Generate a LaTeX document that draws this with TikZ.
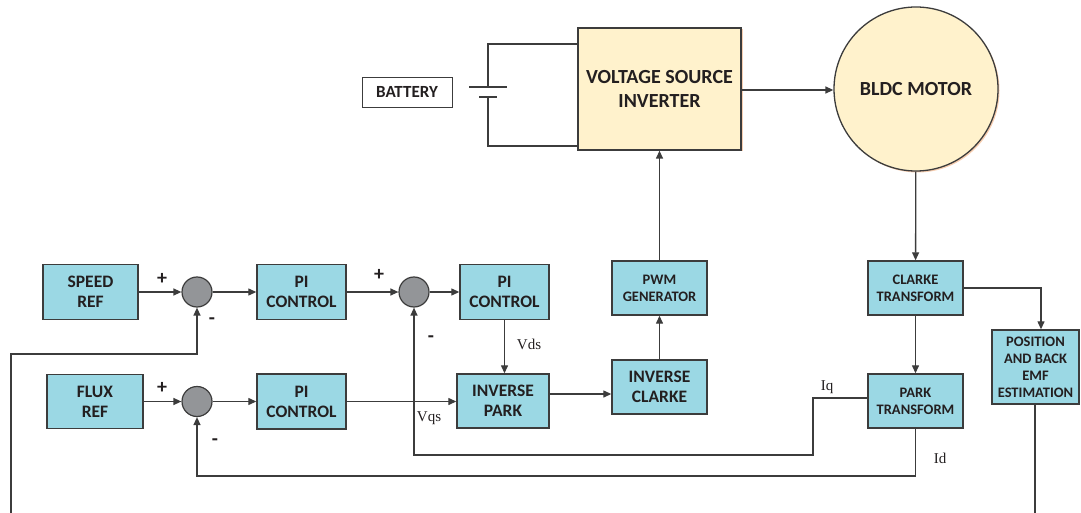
\documentclass[tikz,border=0pt]{standalone}
\usepackage{fontspec}
\setmainfont{Carlito}
\newfontfamily\labfont{Liberation Serif}
\usetikzlibrary{arrows.meta,shadows}
\definecolor{boxc}{HTML}{9BD8E4}
\definecolor{edgec}{HTML}{3C3C3C}
\definecolor{sumc}{HTML}{939598}
\definecolor{yelc}{HTML}{FFF2CC}
\definecolor{shadc}{HTML}{F6C9A8}
\definecolor{txtc}{HTML}{231F20}
\begin{document}
\begin{tikzpicture}[x=1pt,y=-1pt,
  wire/.style={draw=edgec,line width=1.3pt},
  arr/.style={wire,-{Triangle[length=8pt,width=7pt]}},
  blk/.style={draw=edgec,line width=1.4pt,fill=boxc,inner sep=0pt,align=center,text=txtc,
    font=\bfseries\fontsize{17.5}{20}\selectfont},
  sblk/.style={blk,font=\bfseries\fontsize{14.5}{17}\selectfont},
  sumnode/.style={circle,draw=edgec,line width=1.2pt,fill=sumc,minimum size=30pt,inner sep=0pt},
  yel/.style={draw=edgec,line width=1.3pt,fill=yelc,inner sep=0pt,align=center,text=txtc,
    font=\bfseries\fontsize{20}{24}\selectfont,
    drop shadow={shadow xshift=1.5pt,shadow yshift=-1.5pt,fill=shadc,opacity=0.9}},
  sign/.style={text=txtc,font=\bfseries\fontsize{20}{20}\selectfont,inner sep=0pt},
  lab/.style={text=txtc,font=\labfont\fontsize{15}{15}\selectfont,inner sep=0pt}
]
\useasboundingbox (0,0) rectangle (1081,513);

% top
\node[draw=edgec,line width=0.8pt,fill=white,minimum width=90pt,minimum height=30pt,inner sep=0pt,
  text=txtc,font=\bfseries\fontsize{17}{17}\selectfont] (bat) at (407,92) {BATTERY};
\node[yel,minimum width=163pt,minimum height=122pt] (vsi) at (659.5,89) {VOLTAGE SOURCE\\INVERTER};
\node[yel,circle,minimum size=164pt] (motor) at (916,89) {BLDC MOTOR};

% battery symbol
\coordinate (bt) at (488,44);
\coordinate (bb) at (488,146);
\coordinate (pl1) at (469,87);
\coordinate (pl2) at (507,87);
\coordinate (ps1) at (479,97);
\coordinate (ps2) at (497,97);
\draw[wire] (pl1) -- (pl2);
\draw[wire] (ps1) -- (ps2);
\draw[wire] (vsi.west |- bt) -- (bt) -- (bt |- pl1);
\draw[wire] (vsi.west |- bb) -- (bb) -- (bb |- ps1);

% left blocks
\node[blk,minimum width=95pt,minimum height=55pt] (speed) at (90.5,292) {SPEED\\REF};
\node[sumnode] (s1) at (197,292) {};
\node[blk,minimum width=89pt,minimum height=55pt] (pi1) at (301.5,292) {PI\\CONTROL};
\node[sumnode] (s2) at (414,292) {};
\node[blk,minimum width=89pt,minimum height=55pt] (pi2) at (504.5,292) {PI\\CONTROL};

\node[blk,minimum width=96pt,minimum height=54pt] (flux) at (95,401.5) {FLUX\\REF};
\node[sumnode] (s3) at (197,401.5) {};
\node[blk,minimum width=89pt,minimum height=55pt] (pi3) at (301.5,401.5) {PI\\CONTROL};
\node[blk,minimum width=92pt,minimum height=54pt] (ipark) at (503,401) {INVERSE\\PARK};

\node[blk,minimum width=95pt,minimum height=54pt] (iclarke) at (659.5,387) {INVERSE\\CLARKE};
\node[sblk,minimum width=95pt,minimum height=54pt] (pwm) at (659.5,288) {PWM\\GENERATOR};

\node[sblk,minimum width=95pt,minimum height=54pt] (clarke) at (915.5,288) {CLARKE\\TRANSFORM};
\node[sblk,minimum width=95pt,minimum height=54pt] (park) at (915.5,401) {PARK\\TRANSFORM};
\node[sblk,minimum width=87pt,minimum height=74pt] (pos) at (1035.5,367) {POSITION\\AND BACK\\EMF\\ESTIMATION};

% forward path
\draw[arr] (speed) -- (s1);
\draw[arr] (s1) -- (pi1);
\draw[arr] (pi1) -- (s2);
\draw[arr] (s2) -- (pi2);
\draw[arr] (pi2.south) -- (pi2.south |- ipark.north);
\draw[arr] (flux) -- (s3);
\draw[arr] (s3) -- (pi3);
\draw[arr] (pi3.east) -- (ipark.west |- pi3.east);
\coordinate (ipy) at (0,394);
\draw[arr] (ipark.east |- ipy) -- (iclarke.west |- ipy);
\draw[arr] (iclarke) -- (pwm);
\draw[arr] (pwm) -- (vsi);
\draw[arr] (vsi.east |- 0,90) -- (motor.west |- 0,90);
\draw[arr] (motor) -- (clarke);
\draw[arr] (clarke) -- (park);
\coordinate (posin) at (1041,330);
\draw[arr] (clarke.east) -| (posin |- pos.north);

% feedback
\coordinate (posend) at (1035,513);
\draw[wire] (pos.south -| posend) -- (posend);
\coordinate (lend) at (11,513);
\coordinate (lc) at (11,354);
\draw[arr] (lend) -- (lc) -- (lc -| s1) -- (s1.south);
\coordinate (iqa) at (813,398);
\coordinate (iqb) at (813,455);
\draw[arr] (park.west |- iqa) -- (iqa) -- (iqb) -- (iqb -| s2) -- (s2.south);
\coordinate (idb) at (915.5,476);
\draw[arr] (park.south) -- (idb) -- (idb -| s3) -- (s3.south);

% signs and labels
\node[sign] (p1) at (162,279) {+};
\node[sign] (m1) at (212,321) {-};
\node[sign] (p2) at (379,275) {+};
\node[sign] (m2) at (431,339) {-};
\node[sign] (p3) at (162,388) {+};
\node[sign] (m3) at (215,442) {-};
\node[lab] (vds) at (529,344) {Vds};
\node[lab] (vqs) at (429,418) {Vqs};
\node[lab] (iq) at (827,387) {Iq};
\node[lab] (id) at (940,458) {Id};
\end{tikzpicture}
\end{document}
